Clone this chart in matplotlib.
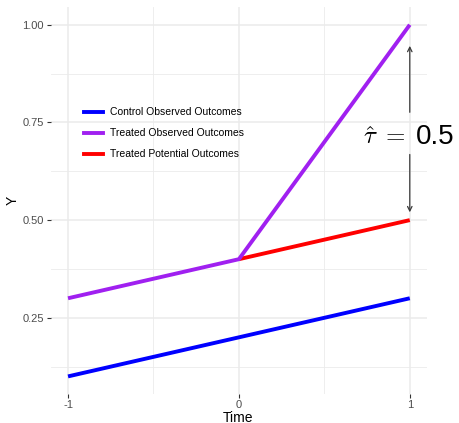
import matplotlib
matplotlib.use("Agg")
import matplotlib.pyplot as plt
from matplotlib.lines import Line2D

plt.rcParams['font.family'] = ['Liberation Sans', 'DejaVu Sans']

time_ctrl = [-1, 0, 1]
y_ctrl = [0.1, 0.2, 0.3]
time_treat = [-1, 0, 1]
y_treat = [0.3, 0.4, 1.0]
time_pot = [0, 1]
y_pot = [0.4, 0.5]
labels = ["Control Observed Outcomes", "Treated Observed Outcomes", "Treated Potential Outcomes"]
colors = ["#0000FF", "#A020F0", "#FF0000"]
xticks = [-1, 0, 1]
xticklabels = ["-1", "0", "1"]
yticks = [0.25, 0.5, 0.75, 1.0]
yticklabels = ["0.25", "0.50", "0.75", "1.00"]
arrow_lo, arrow_hi = 0.52, 0.946
tau_math = r"$\hat{\tau}\,\,=$"
tau_value = "0.5"

fig = plt.figure(figsize=(4.59, 4.23), dpi=100)
ax = fig.add_axes([0.111, 0.0686, 0.819, 0.9144])

ax.set_xlim(-1.1, 1.1)
ax.set_ylim(0.055, 1.045)
for v in [-0.5, 0.5]:
    ax.axvline(v, color="#EBEBEB", lw=0.6, zorder=0)
for v in [0.125 + 0.25 * i for i in range(4)]:
    ax.axhline(v, color="#EBEBEB", lw=0.6, zorder=0)
for v in xticks:
    ax.axvline(v, color="#EBEBEB", lw=1.1, zorder=0)
for v in yticks:
    ax.axhline(v, color="#EBEBEB", lw=1.1, zorder=0)

ax.plot(time_ctrl, y_ctrl, color=colors[0], lw=2.8, solid_capstyle='butt', zorder=3)
ax.plot(time_pot, y_pot, color=colors[2], lw=2.8, solid_capstyle='butt', zorder=3)
ax.plot(time_treat, y_treat, color=colors[1], lw=2.8, solid_capstyle='butt', zorder=4)

arrow_kw = dict(arrowstyle="->", color="#3A3A3A", lw=0.9, shrinkA=0, shrinkB=0,
                mutation_scale=8)
ax.annotate("", xy=(1, arrow_hi), xytext=(1, 0.776), arrowprops=arrow_kw, zorder=5)
ax.annotate("", xy=(1, arrow_lo), xytext=(1, 0.668), arrowprops=arrow_kw, zorder=5)

ax.annotate(tau_math, xy=(1, 0.696), xytext=(-3, 0), textcoords="offset points",
            ha="right", va="baseline", fontsize=18, math_fontfamily='cm',
            annotation_clip=False, zorder=6)
ax.annotate(tau_value, xy=(1, 0.696), xytext=(4.5, 0), textcoords="offset points",
            ha="left", va="baseline", fontsize=20, annotation_clip=False, zorder=6)

handles = [Line2D([0], [0], color=c, lw=2.8) for c in colors]
leg = ax.legend(handles, labels, loc="center left", bbox_to_anchor=(0.077, 0.674),
                borderaxespad=0, frameon=False, fontsize=7.5, handlelength=1.8,
                handletextpad=0.7, labelspacing=1.05)

for s in ax.spines.values():
    s.set_visible(False)
ax.set_xticks(xticks)
ax.set_xticklabels(xticklabels)
ax.set_yticks(yticks)
ax.set_yticklabels(yticklabels)
ax.tick_params(axis='both', colors="#333333", labelcolor="#4D4D4D", labelsize=8,
               length=3, width=0.8, pad=2)
ax.tick_params(axis='x', pad=1)

fig.text(238 / 459, 1 - 417.5 / 423, "Time", fontsize=10, ha="center", va="center")
fig.text(13 / 459, 1 - 200 / 423, "Y", fontsize=10, ha="center", va="center", rotation=90)

fig.savefig("out.png", dpi=100)
